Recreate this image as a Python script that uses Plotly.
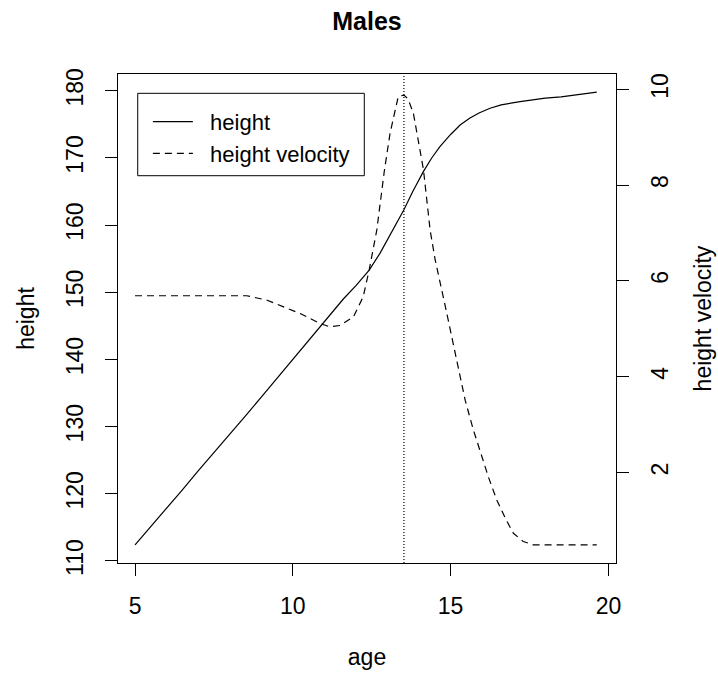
import plotly.graph_objects as go

# ---- data ----
height_age = [5.0, 5.5, 6.0, 6.5, 7.0, 7.5, 8.0, 8.11, 8.5, 9.0, 9.5, 10.0, 10.5, 10.86,
              11.2, 11.6, 12.0, 12.42, 12.76, 13.18, 13.52, 13.8, 14.14, 14.4, 14.66,
              15.0, 15.3, 15.6, 15.9, 16.25, 16.6, 17.2, 17.6, 18.0, 18.5, 19.0, 19.63]
height_val = [112.4, 115.1, 117.9, 120.6, 123.4, 126.1, 128.9, 129.5, 131.6, 134.4, 137.2,
              140.0, 142.9, 144.9, 146.8, 149.0, 151.0, 153.3, 155.8, 159.3, 162.3, 165.0,
              168.0, 170.0, 171.7, 173.5, 174.9, 175.9, 176.7, 177.4, 177.9, 178.4, 178.7,
              178.9, 179.1, 179.4, 179.8]

vel_age = [5.0, 6.0, 7.0, 8.0, 8.54, 9.17, 9.7, 10.23, 10.86, 11.18, 11.5, 11.92, 12.23,
           12.42, 12.66, 12.9, 13.08, 13.34, 13.52, 13.65, 13.82, 14.14, 14.35, 14.51,
           14.88, 15.2, 15.46, 15.72, 15.93, 16.2, 16.46, 16.75, 16.99, 17.3, 17.62,
           18.5, 19.63]
vel_val = [5.69, 5.69, 5.69, 5.69, 5.69, 5.60, 5.46, 5.32, 5.11, 5.04, 5.07, 5.25, 5.67,
           6.23, 7.06, 8.30, 9.08, 9.85, 9.88, 9.80, 9.50, 8.32, 7.06, 6.44,
           5.32, 4.30, 3.51, 2.89, 2.47, 1.90, 1.43, 1.02, 0.73, 0.56, 0.49,
           0.49, 0.49]

peak_age = 13.52

x_ticks = [5, 10, 15, 20]
y_ticks = [110, 120, 130, 140, 150, 160, 170, 180]
y2_ticks = [2, 4, 6, 8, 10]

FONT = "Liberation Sans, Arial, Helvetica, sans-serif"
BLACK = "#000000"
NB = "\u00a0\u00a0"

fig = go.Figure()
fig.add_trace(go.Scatter(x=height_age, y=height_val, mode="lines", name=NB + "height",
                         line=dict(color=BLACK, width=1.2)))
fig.add_trace(go.Scatter(x=vel_age, y=vel_val, mode="lines", name=NB + "height velocity",
                         yaxis="y2", line=dict(color=BLACK, width=1.2, dash="7px,5px")))

fig.add_shape(type="line", xref="x", yref="paper", x0=peak_age, x1=peak_age, y0=0, y1=1,
              line=dict(color=BLACK, width=1.2, dash="1px,2px"))

# legend box (R style)
fig.add_shape(type="rect", xref="paper", yref="paper",
              x0=0.0396, x1=0.4946, y0=0.7920, y1=0.9605,
              line=dict(color=BLACK, width=1), fillcolor="rgba(0,0,0,0)")

axis_common = dict(showgrid=False, zeroline=False, showline=True, linecolor=BLACK,
                   linewidth=1, ticks="outside", ticklen=12, tickwidth=1, tickcolor=BLACK,
                   automargin=False,
                   tickfont=dict(family=FONT, size=23, color=BLACK))

fig.update_layout(
    width=718, height=673,
    margin=dict(l=118, r=102, t=74, b=110),
    paper_bgcolor="white", plot_bgcolor="white",
    title=dict(text="<b>Males</b>", x=(118 + 249) / 718, xanchor="center",
               y=1 - 21 / 673, yanchor="middle",
               font=dict(family=FONT, size=25, color=BLACK)),
    xaxis=dict(range=[4.46, 20.24], tickvals=x_ticks, mirror=True,
               ticklabelstandoff=10,
               title=dict(text="age", font=dict(family=FONT, size=23, color=BLACK),
                          standoff=31),
               **axis_common),
    yaxis=dict(range=[109.7, 182.5], tickvals=y_ticks, tickangle=-90,
               ticklabelstandoff=13,
               title=dict(text="height", font=dict(family=FONT, size=23, color=BLACK),
                          standoff=20),
               **axis_common),
    yaxis2=dict(range=[0.11, 10.32], tickvals=y2_ticks, tickangle=-90, overlaying="y",
                side="right", ticklabelstandoff=11,
                title=dict(text="height velocity", font=dict(family=FONT, size=23, color=BLACK),
                           standoff=23),
                **axis_common),
    showlegend=True,
    legend=dict(x=0.06, y=0.945, xanchor="left", yanchor="top",
                bgcolor="rgba(0,0,0,0)", borderwidth=0,
                font=dict(family=FONT, size=22, color=BLACK),
                itemwidth=40),
)

fig.write_html("out.html", config={"displayModeBar": False},
               post_script="document.body.style.margin='0';document.body.style.padding='0';")
